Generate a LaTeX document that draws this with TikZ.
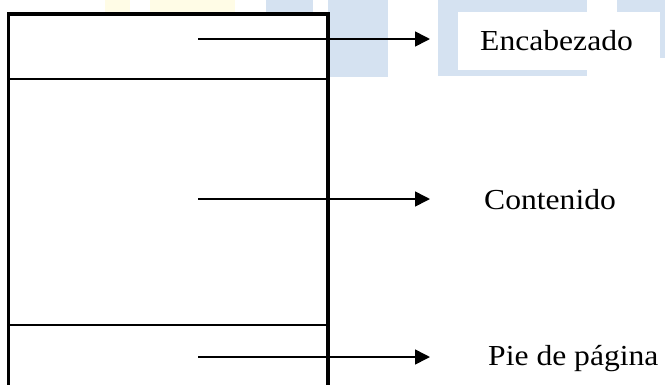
\documentclass[tikz,border=0pt]{standalone}
\usepackage{fontspec}
\setmainfont{Liberation Serif}
\usetikzlibrary{arrows.meta}
\definecolor{wmblue}{HTML}{D5E2F1}
\definecolor{wmyellow}{HTML}{FFFCE6}
\tikzset{
  thickbox/.style={line width=3.5pt},
  divider/.style={line width=1.6pt},
  pointer/.style={line width=1.6pt,-{Triangle[length=15pt,width=15pt]}},
  lbl/.style={anchor=base west,inner sep=0pt,font=\fontsize{29}{31}\selectfont}
}
\begin{document}
\begin{tikzpicture}[x=1pt,y=-1pt]
\useasboundingbox (0,0) rectangle (665,384);
\clip (0,0) rectangle (665,384);
% faint watermark
\fill[wmyellow] (105,0) rectangle (130,13);
\fill[wmyellow] (150,0) rectangle (235,13);
\fill[wmblue] (266,0) rectangle (313,13);
\fill[wmblue] (328,0) rectangle (388,77);
\fill[wmblue] (438,0) rectangle (587,76);
\fill[wmblue] (617,0) rectangle (665,58);
\fill[white] (458,12) rectangle (660,70);
% page box
\fill[white] (8.5,14) rectangle (328,390);
\draw[thickbox] (8.5,390) -- (8.5,14) -- (328,14) -- (328,390);
\draw[divider] (8.5,79) -- (328,79);
\draw[divider] (8.5,325) -- (328,325);
% labels
\node[lbl] (enc) at (480,50) {\scalebox{1.09}[1]{Encabezado}};
\node[lbl] (con) at (484,209) {\scalebox{1.09}[1]{Contenido}};
\node[lbl] (pie) at (488,365) {\scalebox{1.09}[1]{Pie de página}};
% arrows
\coordinate (s1) at (198,39);  \coordinate (e1) at (430,39);
\coordinate (s2) at (198,199); \coordinate (e2) at (430,199);
\coordinate (s3) at (198,357); \coordinate (e3) at (430,357);
\draw[pointer] (s1) -- (e1);
\draw[pointer] (s2) -- (e2);
\draw[pointer] (s3) -- (e3);
\end{tikzpicture}
\end{document}
